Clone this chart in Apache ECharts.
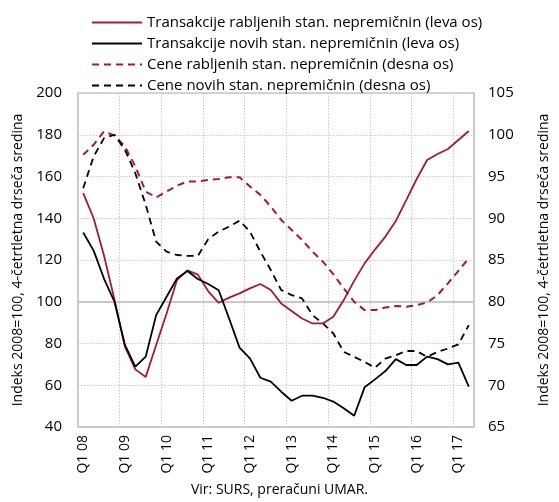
<!DOCTYPE html>
<html><head><meta charset="utf-8">
<script src="https://cdn.jsdelivr.net/npm/echarts@6/dist/echarts.min.js"></script>
<style>html,body{margin:0;padding:0;background:#fff}#c{width:559px;height:502px}</style>
</head><body><div id="c"></div>
<script>
const years = ['08','09','10','11','12','13','14','15','16','17'];
const categories = [];
for (const y of years) for (let q = 1; q <= 4; q++) categories.push('Q' + q + ' ' + y);
categories.length = 38;

const seriesNames = [
  'Transakcije rabljenih stan. nepremičnin (leva os)',
  'Transakcije novih stan. nepremičnin (leva os)',
  'Cene rabljenih stan. nepremičnin (desna os)',
  'Cene novih stan. nepremičnin (desna os)'
];
const transRabljene = [152,140,122,101,78.5,67.6,64,79.3,94.4,110.4,115,113,105,99.5,102,104,106.4,108.5,105.6,99.2,95.6,92,89.6,89.6,92.8,100.8,110,118.4,125,131.2,138.7,148.7,158.8,167.9,170.8,173.2,177.5,181.8];
const transNove = [133.2,124.5,111,100,79.3,68.9,73.7,93.6,102.4,111.2,114.7,110.9,108.5,105.5,92,78,72.9,63.6,61.7,56.9,52.6,55,55,54,52.2,49,45.4,59,62.8,66.8,72.5,69.7,69.7,73.7,72.5,70,70.8,59.3];
const ceneRabljene = [97.6,98.8,100.4,99.9,98.6,96.2,93.2,92.5,93.2,93.9,94.4,94.4,94.6,94.7,94.9,94.9,93.8,92.8,91.4,89.8,88.6,87.4,86,84.8,83.3,81.6,80,79,79,79.3,79.5,79.4,79.6,79.9,80.8,82.2,83.7,85.2];
const ceneNove = [93.6,97.4,99.6,100,98.2,95.4,91.6,87.2,86,85.6,85.5,85.5,87.5,88.4,89,89.7,88.4,86,83.8,81.4,80.8,80.4,78.4,77.4,76.2,74,73.4,72.8,72.1,73.2,73.6,74.1,74.1,73.4,74,74.4,74.9,77.2];

const RED = '#A8192E', BLACK = '#000000';
const FONT = 'Open Sans';
const chart = echarts.init(document.getElementById('c'));
const axName = 'Indeks 2008=100, 4-četrtletna drseča sredina';
chart.setOption({
  animation: false,
  textStyle: {fontFamily: FONT},
  legend: {
    orient: 'vertical', left: 86, top: 10, itemGap: 6, itemWidth: 50, itemHeight: 10,
    itemStyle: {opacity: 0},
    textStyle: {fontSize: 15, color: '#000', fontFamily: FONT},
    data: seriesNames
  },
  grid: {left: 78, right: 75, top: 93, bottom: 75, show: true, borderColor: '#c8c8c8', borderWidth: 1.5},
  xAxis: {
    type: 'category', data: categories, boundaryGap: true,
    axisLine: {lineStyle: {color: '#c8c8c8', width: 1.5}},
    axisTick: {show: false},
    axisLabel: {interval: 3, rotate: 90, fontSize: 14, color: '#000', margin: 8, fontFamily: FONT},
    splitLine: {show: true, interval: 3, lineStyle: {color: '#c8c8c8', type: [1.5, 1.5], width: 1}}
  },
  yAxis: [{
    type: 'value', min: 40, max: 200, interval: 20, position: 'left',
    name: axName, nameLocation: 'middle', nameRotate: 90, nameGap: 50,
    nameTextStyle: {fontSize: 14, color: '#000', fontFamily: FONT},
    axisLine: {show: true, lineStyle: {color: '#c8c8c8', width: 1.5}},
    axisTick: {show: false},
    axisLabel: {fontSize: 15, color: '#000', margin: 16, fontFamily: FONT},
    splitLine: {show: true, lineStyle: {color: '#c8c8c8', type: [1.5, 1.5], width: 1}}
  }, {
    type: 'value', min: 65, max: 105, interval: 5, position: 'right',
    name: axName, nameLocation: 'middle', nameRotate: 90, nameGap: 63,
    nameTextStyle: {fontSize: 14, color: '#000', fontFamily: FONT},
    axisLine: {show: true, lineStyle: {color: '#c8c8c8', width: 1.5}},
    axisTick: {show: false},
    axisLabel: {fontSize: 15, color: '#000', margin: 14, fontFamily: FONT},
    splitLine: {show: false}
  }],
  series: [
    {name: seriesNames[0], type: 'line', yAxisIndex: 0, data: transRabljene, symbol: 'none',
     lineStyle: {color: RED, width: 1.8}, itemStyle: {color: RED}, z: 5,
     markLine: {silent: true, symbol: 'none', label: {show: false},
       lineStyle: {color: '#c8c8c8', type: 'solid', width: 2}, data: [{yAxis: 100}], z: 1}},
    {name: seriesNames[1], type: 'line', yAxisIndex: 0, data: transNove, symbol: 'none',
     lineStyle: {color: BLACK, width: 1.8}, itemStyle: {color: BLACK}, z: 5},
    {name: seriesNames[2], type: 'line', yAxisIndex: 1, data: ceneRabljene, symbol: 'none',
     lineStyle: {color: RED, width: 2, type: [7, 5]}, itemStyle: {color: RED}, z: 4},
    {name: seriesNames[3], type: 'line', yAxisIndex: 1, data: ceneNove, symbol: 'none',
     lineStyle: {color: BLACK, width: 1.8, type: [7, 5]}, itemStyle: {color: BLACK}, z: 4}
  ],
  graphic: [{type: 'text', left: 'center', top: 483,
    style: {text: 'Vir: SURS, preračuni UMAR.', fontSize: 14, fill: '#000', fontFamily: FONT}}]
});
</script></body></html>
